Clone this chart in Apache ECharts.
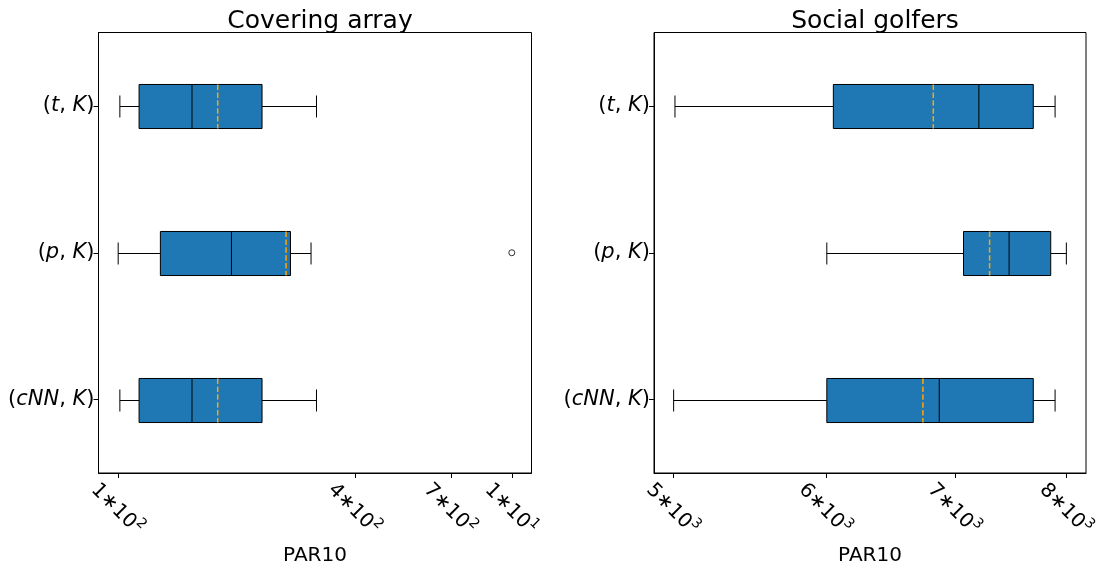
<!DOCTYPE html>
<html>
<head>
<meta charset="utf-8">
<script src="https://cdn.jsdelivr.net/npm/echarts@6/dist/echarts.min.js"></script>
<style>
html, body { margin: 0; padding: 0; background: #fff; }
#chart { width: 1107px; height: 568px; }
</style>
</head>
<body>
<div id="chart"></div>
<script>
// categories, bottom to top (matplotlib position 1 is at the bottom)
var categories = ['(cNN, K)', '(p, K)', '(t, K)'];
var catLabels = {
  '(cNN, K)': '{n|(}{i|cNN}{n|, }{i|K}{n|)}',
  '(p, K)': '{n|(}{i|p}{n|, }{i|K}{n|)}',
  '(t, K)': '{n|(}{i|t}{n|, }{i|K}{n|)}'
};

// Covering array (PAR10)
var caLow = [101, 100, 101];
var caQ1 = [113, 128, 113];
var caMedian = [154, 194, 154];
var caQ3 = [232, 274, 232];
var caHigh = [319, 309, 319];
var caMean = [179, 267, 179];
var caOutliers = [[1000, '(p, K)']];
var caTicks = [100, 400, 700, 1000];
var caTickLabels = ['{b|1∗10}{s|2}', '{b|4∗10}{s|2}', '{b|7∗10}{s|2}', '{b|1∗10}{s|1}'];

// Social golfers (PAR10)
var sgLow = [5002, 6007, 5010];
var sgQ1 = [6007, 7073, 6054];
var sgMedian = [6871, 7469, 7204];
var sgQ3 = [7688, 7850, 7688];
var sgHigh = [7891, 7998, 7891];
var sgMean = [6738, 7297, 6822];
var sgTicks = [5000, 6000, 7000, 8000];
var sgTickLabels = ['{b|5∗10}{s|3}', '{b|6∗10}{s|3}', '{b|7∗10}{s|3}', '{b|8∗10}{s|3}'];

var FONT = 'DejaVu Sans';

function boxRows (low, q1, med, q3, high, mean) {
  return categories.map(function (c, i) {
    return [i, low[i], q1[i], med[i], q3[i], high[i], mean[i]];
  });
}

function renderBox (params, api) {
  var cat = api.value(0);
  var lo = api.coord([api.value(1), cat]);
  var q1 = api.coord([api.value(2), cat]);
  var med = api.coord([api.value(3), cat]);
  var q3 = api.coord([api.value(4), cat]);
  var hi = api.coord([api.value(5), cat]);
  var mean = api.coord([api.value(6), cat]);
  var h = api.size([0, 1], [api.value(3), cat])[1] * 0.3;
  var y = Math.round(med[1]) + 0.5;
  var top = y - h / 2;
  var black = { stroke: '#000', lineWidth: 1 };
  return {
    type: 'group',
    children: [
      { type: 'line', shape: { x1: lo[0], y1: y, x2: q1[0], y2: y }, style: black },
      { type: 'line', shape: { x1: q3[0], y1: y, x2: hi[0], y2: y }, style: black },
      { type: 'line', shape: { x1: lo[0], y1: y - h / 4, x2: lo[0], y2: y + h / 4 }, style: black },
      { type: 'line', shape: { x1: hi[0], y1: y - h / 4, x2: hi[0], y2: y + h / 4 }, style: black },
      { type: 'rect', shape: { x: q1[0], y: top, width: q3[0] - q1[0], height: h },
        style: { fill: '#1f77b4', stroke: '#000', lineWidth: 1 } },
      { type: 'line', shape: { x1: med[0], y1: top, x2: med[0], y2: top + h }, style: black },
      { type: 'line', shape: { x1: mean[0], y1: top, x2: mean[0], y2: top + h },
        style: { stroke: '#ffa500', lineWidth: 1.5, lineDash: [5.5, 2.4] } }
    ]
  };
}

function makeXAxis (idx, min, max, ticks, labels) {
  return {
    type: 'log',
    gridIndex: idx,
    min: min,
    max: max,
    name: 'PAR10',
    nameLocation: 'middle',
    nameGap: 71,
    nameTextStyle: { fontFamily: FONT, fontSize: 20, color: '#000' },
    axisLine: { show: true, lineStyle: { color: '#000', width: 1 } },
    axisTick: { show: true, length: 5, customValues: ticks, lineStyle: { color: '#000' } },
    minorTick: { show: false },
    splitLine: { show: false },
    axisLabel: {
      customValues: ticks,
      rotate: -45,
      align: 'center',
      verticalAlign: 'middle',
      margin: 35,
      color: '#000',
      rich: {
        b: { fontFamily: FONT, fontSize: 20, lineHeight: 24, verticalAlign: 'bottom', color: '#000' },
        s: { fontFamily: FONT, fontSize: 14, lineHeight: 24, verticalAlign: 'top', color: '#000' }
      },
      formatter: function (v) {
        var best = 0;
        for (var i = 1; i < ticks.length; i++) {
          if (Math.abs(ticks[i] - v) < Math.abs(ticks[best] - v)) best = i;
        }
        return labels[best];
      }
    }
  };
}

function makeYAxis (idx) {
  return {
    type: 'category',
    gridIndex: idx,
    data: categories,
    boundaryGap: true,
    axisLine: { show: true, lineStyle: { color: '#000' } },
    axisTick: { show: true, alignWithLabel: true, length: 5, lineStyle: { color: '#000' } },
    splitLine: { show: false },
    axisLabel: {
      margin: 4,
      formatter: function (v) { return catLabels[v]; },
      rich: {
        n: { fontFamily: FONT, fontSize: 21, color: '#000' },
        i: { fontFamily: FONT, fontSize: 21, fontStyle: 'italic', color: '#000' }
      }
    }
  };
}

var chart = echarts.init(document.getElementById('chart'));
chart.setOption({
  animation: false,
  backgroundColor: '#fff',
  title: [
    { text: 'Covering array', left: 315, top: 4, textAlign: 'center',
      textStyle: { fontFamily: FONT, fontSize: 25, fontWeight: 'normal', color: '#000' } },
    { text: 'Social golfers', left: 870, top: 4, textAlign: 'center',
      textStyle: { fontFamily: FONT, fontSize: 25, fontWeight: 'normal', color: '#000' } }
  ],
  grid: [
    { left: 98.5, top: 32.5, width: 433, height: 440.5, outerBoundsMode: 'none', containLabel: false,
      show: true, borderColor: '#000', borderWidth: 1, backgroundColor: 'transparent' },
    { left: 654, top: 32.5, width: 432, height: 440.5, outerBoundsMode: 'none', containLabel: false,
      show: true, borderColor: '#000', borderWidth: 1, backgroundColor: 'transparent' }
  ],
  xAxis: [
    makeXAxis(0, 89.13, 1122, caTicks, caTickLabels),
    makeXAxis(1, 4886, 8188, sgTicks, sgTickLabels)
  ],
  yAxis: [makeYAxis(0), makeYAxis(1)],
  series: [
    {
      type: 'custom',
      xAxisIndex: 0,
      yAxisIndex: 0,
      renderItem: renderBox,
      encode: { x: [1, 2, 3, 4, 5, 6], y: 0 },
      data: boxRows(caLow, caQ1, caMedian, caQ3, caHigh, caMean),
      z: 5
    },
    {
      type: 'scatter',
      xAxisIndex: 0,
      yAxisIndex: 0,
      symbol: 'circle',
      symbolSize: 6,
      itemStyle: { color: '#fff', borderColor: '#000', borderWidth: 1 },
      data: caOutliers,
      z: 6
    },
    {
      type: 'custom',
      xAxisIndex: 1,
      yAxisIndex: 1,
      renderItem: renderBox,
      encode: { x: [1, 2, 3, 4, 5, 6], y: 0 },
      data: boxRows(sgLow, sgQ1, sgMedian, sgQ3, sgHigh, sgMean),
      z: 5
    }
  ]
});
</script>
</body>
</html>
